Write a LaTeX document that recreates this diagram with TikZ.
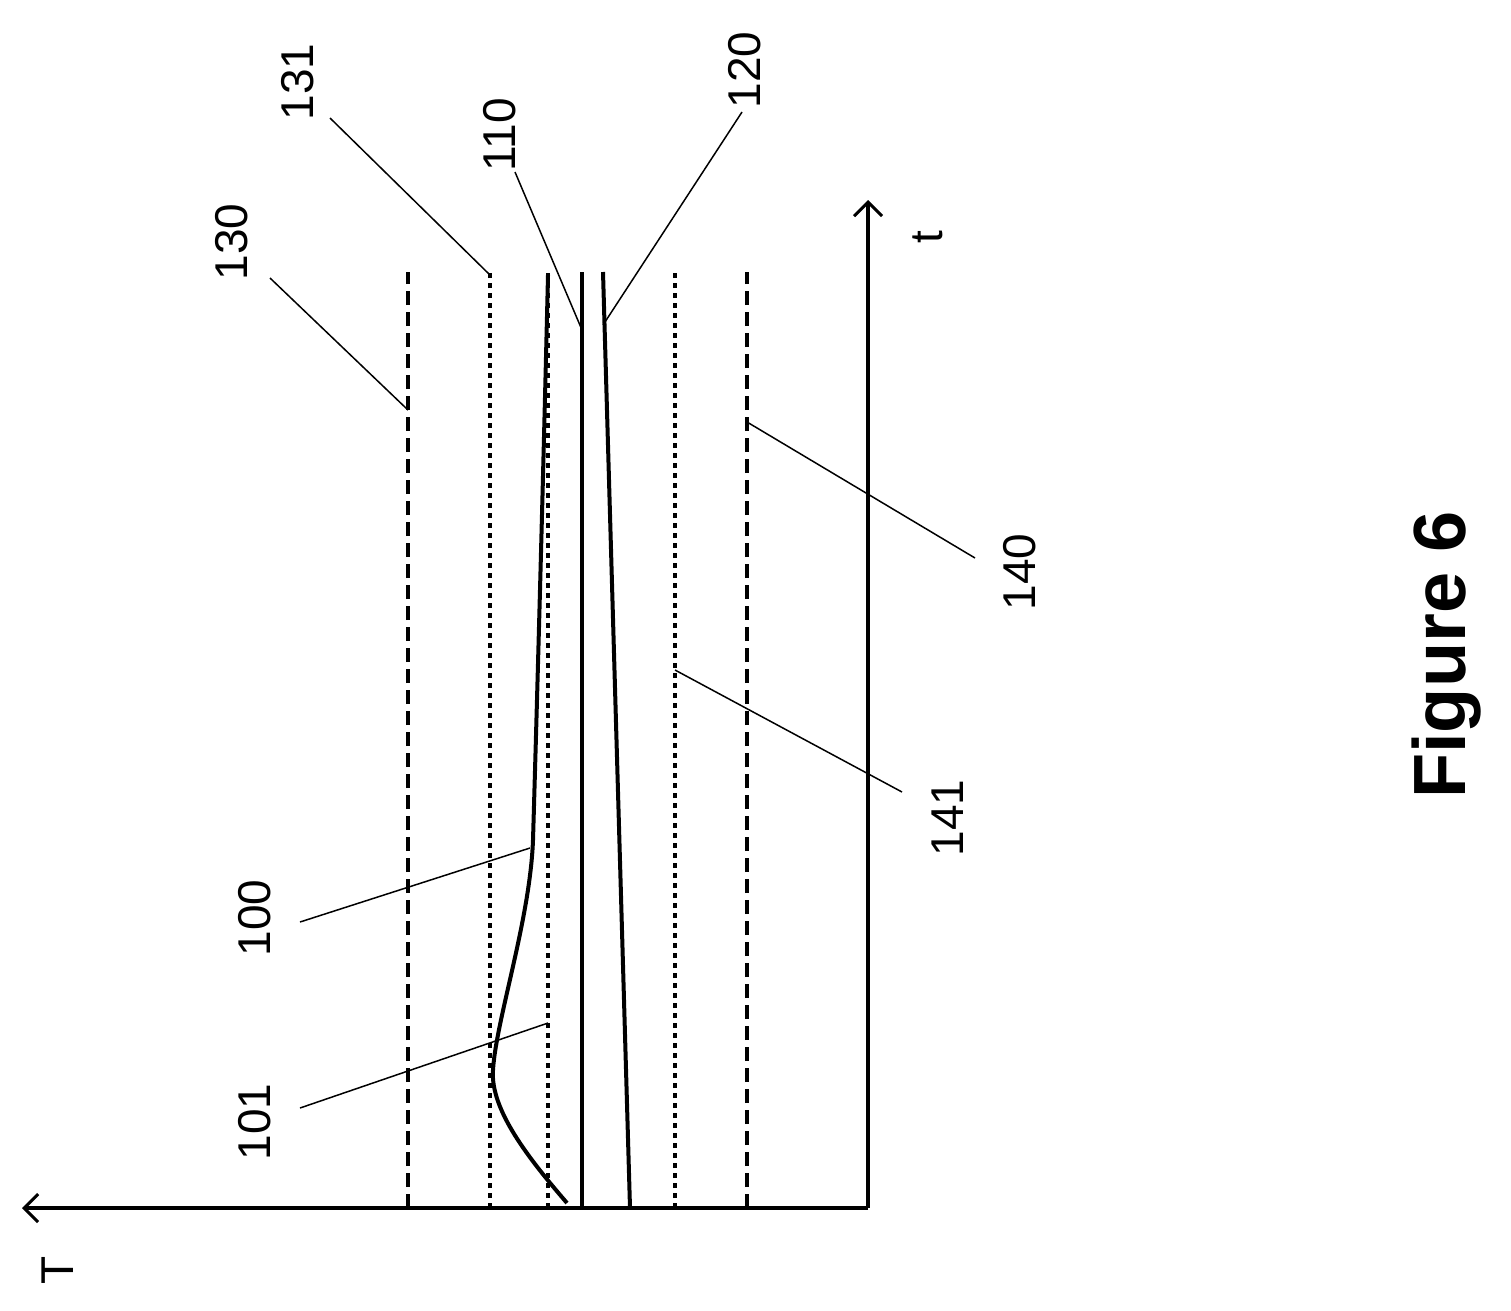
\documentclass[tikz,border=0pt]{standalone}
\usepackage{fontspec}
\setmainfont{Liberation Sans}
\usetikzlibrary{arrows.meta}
\begin{document}
\begin{tikzpicture}[x=1pt,y=-1pt,
  axis/.style={line width=3.5pt,-{Straight Barb[length=14pt,width=28pt,line width=3pt]}},
  ref/.style={line width=4pt},
  lead/.style={line width=1.5pt},
  lbl/.style={rotate=90,font=\fontsize{46}{50}\selectfont}]
\useasboundingbox (0,0) rectangle (1511,1310);
\coordinate (O) at (868,1208);
\coordinate (Tend) at (22,1208);
\coordinate (tend) at (868,200);
\draw[axis] (O) -- (Tend);
\draw[axis] (O) -- (tend);
\node[lbl] (T) at (58,1270) {T};
\node[lbl] (tl) at (928,237) {t};
% reference lines
\draw[ref,dash pattern=on 14pt off 7pt] (408,1208) -- (408,272);
\draw[ref,dash pattern=on 14pt off 7pt] (747,1208) -- (747,272);
\draw[ref,dash pattern=on 5pt off 5pt] (490,1208) -- (490,272);
\draw[ref,dash pattern=on 5pt off 5pt] (548,1208) -- (548,272);
\draw[ref,dash pattern=on 5pt off 5pt] (675,1208) -- (675,272);
\draw[ref] (582,1208) -- (582,272);
\draw[ref] (630,1208) -- (603,272);
\draw[ref] (567,1203) .. controls (530,1160) and (490,1110) .. (493,1070)
  .. controls (496,1020) and (530,920) .. (533,840)
  .. controls (540,600) and (545,400) .. (548,275);
% leaders
\draw[lead] (408,410) -- (270,278);
\draw[lead] (490,275) -- (330,118);
\draw[lead] (582,330) -- (515,172);
\draw[lead] (603,325) -- (742,112);
\draw[lead] (747,422) -- (975,558);
\draw[lead] (675,670) -- (902,792);
\draw[lead] (530,848) -- (300,922);
\draw[lead] (548,1023) -- (300,1108);
\node[lbl] (n130) at (232,242) {130};
\node[lbl] (n131) at (298,82) {131};
\node[lbl] (n110) at (500,135) {110};
\node[lbl] (n120) at (745,70) {120};
\node[lbl] (n140) at (1020,572) {140};
\node[lbl] (n141) at (948,818) {141};
\node[lbl] (n100) at (255,918) {100};
\node[lbl] (n101) at (255,1122) {101};
\node[rotate=90,font=\bfseries\fontsize{74}{80}\selectfont] (fig) at (1447,655) {Figure 6};
\end{tikzpicture}
\end{document}
